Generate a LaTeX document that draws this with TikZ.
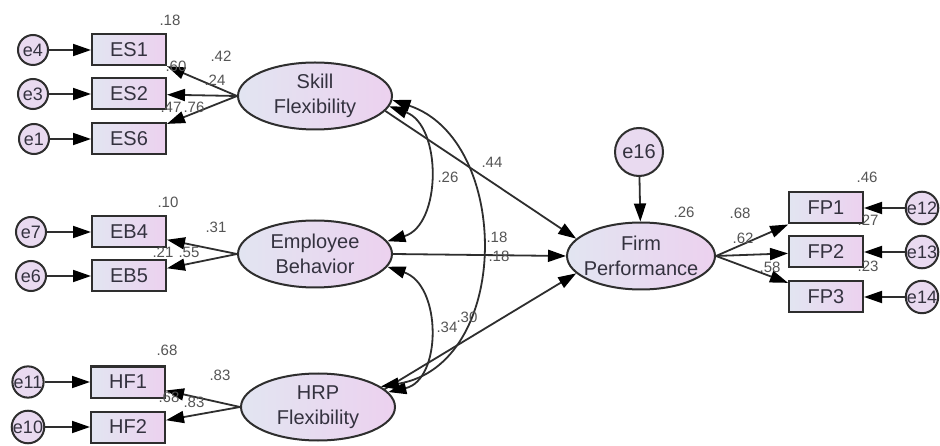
\documentclass[tikz,border=0pt]{standalone}
\usepackage{fontspec}
\setmainfont{Liberation Sans}
\usetikzlibrary{arrows.meta,shapes.geometric}
\definecolor{ln}{HTML}{2E2E2E}
\definecolor{txt}{HTML}{34323F}
\definecolor{fl}{HTML}{E9DAF0}
\definecolor{flL}{HTML}{E2E5F1}
\definecolor{flR}{HTML}{ECD1EF}
\definecolor{lbl}{HTML}{555555}
\begin{document}
\begin{tikzpicture}[x=1pt,y=-1pt,
 obs/.style={draw=ln,line width=2pt,left color=flL,right color=flR,minimum width=74pt,minimum height=31pt,inner sep=0pt,text=txt,font=\fontsize{20}{20}\selectfont},
 lat/.style={ellipse,draw=ln,line width=2pt,left color=flL,right color=flR,minimum width=154pt,minimum height=67pt,inner sep=0pt},
 lattext/.style={align=center,text=txt,inner sep=0pt,font=\fontsize{20}{25}\selectfont},
 err/.style={circle,draw=ln,line width=2pt,fill=fl,minimum size=30pt,inner sep=0pt,text=txt,font=\fontsize{18}{18}\selectfont},
 arr/.style={draw=ln,line width=1.8pt,-{Triangle[length=18pt,width=12pt,color=black]}},
 darr/.style={draw=ln,line width=1.8pt,{Triangle[length=18pt,width=12pt,color=black]}-{Triangle[length=18pt,width=12pt,color=black]}},
 coef/.style={text=lbl,font=\fontsize{15}{15}\selectfont,inner sep=0pt}]
\useasboundingbox[fill=white] (0,0) rectangle (940,446);
% observed
\node[obs] (es1) at (129,50) {ES1};
\node[obs] (es2) at (129,94) {ES2};
\node[obs] (es6) at (129,139) {ES6};
\node[obs] (eb4) at (129,232) {EB4};
\node[obs] (eb5) at (129,276) {EB5};
\node[obs] (hf1) at (128,382) {HF1};
\node[obs] (hf2) at (128,427) {HF2};
\node[obs] (fp1) at (826,208) {FP1};
\node[obs] (fp2) at (826,252) {FP2};
\node[obs] (fp3) at (826,297) {FP3};
% latent
\node[lat] (sf) at (315,96) {};
\node[lat] (eb) at (315,254) {};
\node[lat] (hrp) at (318,407) {};
\node[lat,minimum width=148pt] (fp) at (641,256) {};
\node[lattext] (sft) at (sf) {Skill\\Flexibility};
\node[lattext] (ebt) at (eb) {Employee\\Behavior};
\node[lattext] (hrpt) at (hrp) {HRP\\Flexibility};
\node[lattext] (fpt) at (fp) {Firm\\Performance};
% errors
\node[err] (e4) at (33,50) {e4};
\node[err] (e3) at (33,94) {e3};
\node[err] (e1) at (34,139) {e1};
\node[err] (e7) at (31,232) {e7};
\node[err] (e6) at (31,276) {e6};
\node[err] (e11) at (28,382) {e11};
\node[err] (e10) at (28,427) {e10};
\node[err] (e12) at (922,208) {e12};
\node[err] (e13) at (922,252) {e13};
\node[err] (e14) at (922,297) {e14};
\node[err,minimum size=48pt,font=\fontsize{20}{20}\selectfont] (e16) at (639,152) {e16};
% error arrows
\draw[arr] (e4) -- (es1);
\draw[arr] (e3) -- (es2);
\draw[arr] (e1) -- (es6);
\draw[arr] (e7) -- (eb4);
\draw[arr] (e6) -- (eb5);
\draw[arr] (e11) -- (hf1);
\draw[arr] (e10) -- (hf2);
\draw[arr] (e12) -- (fp1);
\draw[arr] (e13) -- (fp2);
\draw[arr] (e14) -- (fp3);
\draw[arr] (e16) -- (fp);
% loadings
\draw[arr] (sf.west) -- (es1);
\draw[arr] (sf.west) -- (es2);
\draw[arr] (sf.west) -- (es6);
\draw[arr] (eb.west) -- (eb4);
\draw[arr] (eb.west) -- (eb5);
\draw[arr] (hrp.west) -- (hf1);
\draw[arr] (hrp.west) -- (hf2);
\draw[arr] (fp.east) -- (fp1);
\draw[arr] (fp.east) -- (fp2);
\draw[arr] (fp.east) -- (fp3);
% structural
\draw[arr] (sf.-12) -- (fp.165);
\draw[arr] (eb.east) -- (fp.west);
\draw[arr] (hrp.15) -- (fp.195);
% covariances
\draw[darr] (sf.-8) .. controls (442,125) and (442,225) .. (eb.10);
\draw[darr] (eb.-10) .. controls (442,285) and (442,380) .. (hrp.12);
\draw[darr] (sf.-3) .. controls (512,140) and (512,365) .. (hrp.18);
% coefficients
\node[coef] (c1) at (170,20) {.18};
\node[coef] (c2) at (221,56) {.42};
\node[coef] (c3) at (215,80) {.24};
\node[coef] (c4) at (176,66) {.60};
\node[coef] (c5) at (171,107) {.47};
\node[coef] (c6) at (194,107) {.76};
\node[coef] (c7) at (168,202) {.10};
\node[coef] (c8) at (216,227) {.31};
\node[coef] (c9) at (163,252) {.21};
\node[coef] (c10) at (189,252) {.55};
\node[coef] (c11) at (167,350) {.68};
\node[coef] (c12) at (220,375) {.83};
\node[coef] (c13) at (169,397) {.68};
\node[coef] (c14) at (194,402) {.83};
\node[coef] (c15) at (492,162) {.44};
\node[coef] (c16) at (448,177) {.26};
\node[coef] (c17) at (497,237) {.18};
\node[coef] (c18) at (499,256) {.18};
\node[coef] (c19) at (447,327) {.34};
\node[coef] (c20) at (467,317) {.30};
\node[coef] (c21) at (684,212) {.26};
\node[coef] (c22) at (867,177) {.46};
\node[coef] (c23) at (740,213) {.68};
\node[coef] (c24) at (743,238) {.62};
\node[coef] (c25) at (770,267) {.58};
\node[coef] (c26) at (868,220) {.27};
\node[coef] (c27) at (868,266) {.23};
\end{tikzpicture}
\end{document}
